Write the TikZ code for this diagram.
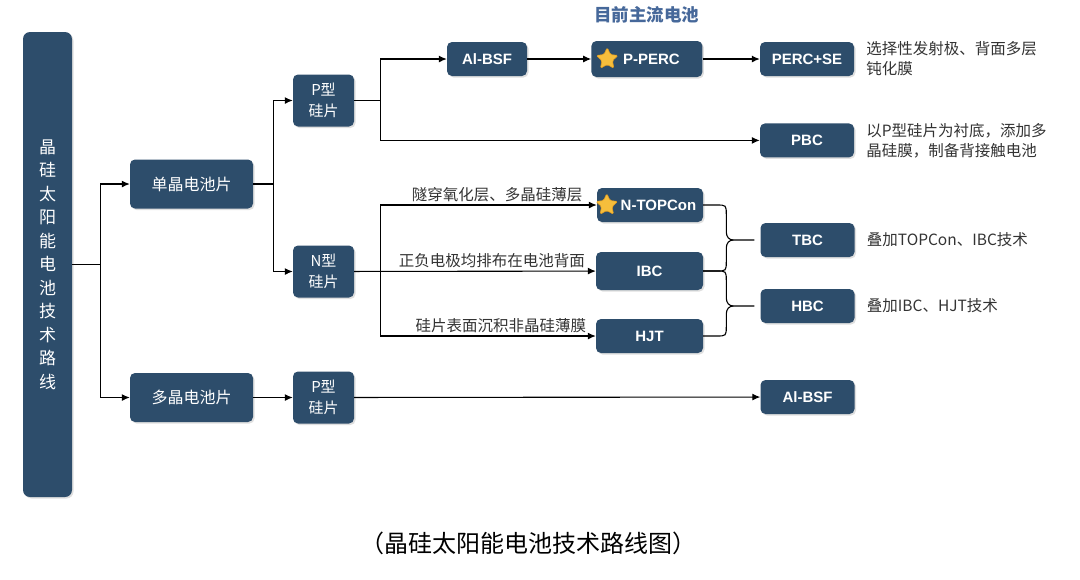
\documentclass[tikz,border=0pt]{standalone}
\usepackage{fontspec}
\setmainfont{Liberation Sans}
\newfontfamily\cjk{Noto Sans CJK SC}
\usepackage{xcolor}
\usepackage{tikz}
\usetikzlibrary{arrows.meta,positioning,shapes.geometric,shadows,calc}

\definecolor{boxblue}{HTML}{2D4D6B}
\definecolor{headblue}{HTML}{46689A}
\definecolor{notegray}{HTML}{333333}
\definecolor{stargold}{HTML}{F6BE3C}
\definecolor{starrim}{HTML}{E39E22}

\begin{document}
\begin{tikzpicture}[
    x=1pt, y=-1pt,
    cell/.style={
        fill=boxblue,
        rounded corners=5pt,
        align=center,
        text=white,
        inner sep=2pt,
        drop shadow={shadow xshift=1.5pt, shadow yshift=-1.5pt, opacity=0.25}
    },
    rootbox/.style={
        cell,
        rounded corners=7pt,
        minimum width=49pt,
        minimum height=465pt,
        font=\cjk\fontsize{17}{23.5}\selectfont
    },
    group/.style={
        cell,
        minimum width=123pt,
        minimum height=49pt,
        font=\cjk\fontsize{16}{20}\selectfont
    },
    wafer/.style={
        cell,
        minimum width=61pt,
        minimum height=52pt,
        font=\cjk\fontsize{15}{21}\selectfont
    },
    tech/.style={
        cell,
        minimum width=94pt,
        minimum height=34pt,
        font=\bfseries\fontsize{15}{17}\selectfont
    },
    note/.style={
        align=left,
        inner sep=0pt,
        text=notegray,
        font=\cjk\fontsize{15.5}{20}\selectfont
    },
    lbl/.style={
        above,
        inner sep=3pt,
        text=notegray,
        font=\cjk\fontsize{15.5}{18}\selectfont
    },
    starmark/.style={
        star, star points=5, star point ratio=2.1,
        minimum size=23pt, inner sep=0pt,
        fill=stargold, draw=starrim, line width=0.6pt,
        rounded corners=1.5pt
    },
    link/.style={line width=1.1pt, draw=black},
    arrow/.style={link, -{Latex[length=8pt,width=7pt]}}
]
\useasboundingbox (0,0) rectangle (1080,579);

% left column
\node[rootbox] (root) at (47.5,264.5) {晶\\硅\\太\\阳\\能\\电\\池\\技\\术\\路\\线};
\node[group] (mono) at (191.5,184) {单晶电池片};
\node[group] (poly) at (191.5,397.5) {多晶电池片};

\node[wafer] (pwaf) at (323.5,100.5) {P型\\硅片};
\node[wafer] (nwaf) at (323.5,271.5) {N型\\硅片};
\node[wafer] (pwaf2) at (323.5,397.5) {P型\\硅片};

% P-type branch
\node[tech, minimum width=80pt] (alb) at (487,59) {Al-BSF};
\node[tech, minimum width=111pt, minimum height=36pt, right=64pt of alb] (perc) {\hspace*{9pt}P-PERC};
\node[starmark] (star1) at ($(perc.west)+(16,0)$) {};
\node[font=\cjk\bfseries\fontsize{17.5}{20}\selectfont, text=headblue] (mainstream) at (646.5,15) {目前主流电池};

\node[tech] (perse) at (807,59) {PERC+SE};
\node[tech, below=47pt of perse] (pbc) {PBC};
\node[note, right=12pt of perse] (perse-note) {选择性发射极、背面多层\\钝化膜};
\node[note, right=12pt of pbc] (pbc-note) {以P型硅片为衬底，添加多\\晶硅膜，制备背接触电池};

% N-type branch
\node[tech, minimum width=106pt] (ntop) at (650,205) {\hspace*{17pt}N-TOPCon};
\node[starmark] (star2) at ($(ntop.west)+(10,0)$) {};
\node[tech, minimum width=107pt, minimum height=38pt] (ibc) at (649.5,271) {IBC};
\node[tech, minimum width=107pt] (hjt) at (649.5,336) {HJT};

\node[tech] (tbc) at (807.5,240) {TBC};
\node[tech] (hbc) at (807.5,306) {HBC};
\node[note, right=12pt of tbc] (tbc-note) {叠加TOPCon、IBC技术};
\node[note, right=12pt of hbc] (hbc-note) {叠加IBC、HJT技术};

% multi-crystal branch
\node[tech] (alb2) at (807.5,397) {Al-BSF};

\node[font=\cjk\fontsize{24}{26}\selectfont] (caption) at (528,543) {（晶硅太阳能电池技术路线图）};

% connectors
\coordinate (j0) at ($(root.east)+(28,0)$);
\draw[link] (root.east) -- (j0);
\draw[arrow] (j0) |- (mono);
\draw[arrow] (j0) |- (poly);

\coordinate (j1) at ($(mono.east)+(20,0)$);
\draw[link] (mono.east) -- (j1);
\draw[arrow] (j1) |- (pwaf);
\draw[arrow] (j1) |- (nwaf);
\draw[arrow] (poly) -- (pwaf2);
\draw[arrow] (pwaf2) -- (alb2);

\coordinate (j2) at ($(pwaf.east)+(26,0)$);
\draw[link] (pwaf.east) -- (j2);
\draw[arrow] (j2) |- (alb);
\draw[arrow] (j2) |- (pbc);
\draw[arrow] (alb) -- (perc);
\draw[arrow] (perc) -- (perse);

\coordinate (j3) at ($(nwaf.east)+(26,0)$);
\draw[link] (nwaf.east) -- (j3);
\draw[arrow] (j3) |- node[lbl, pos=0.77] {隧穿氧化层、多晶硅薄层} (ntop);
\draw[arrow] (nwaf) -- node[lbl, pos=0.57] {正负电极均排布在电池背面} (ibc);
\draw[arrow] (j3) |- node[lbl, pos=0.78] {硅片表面沉积非晶硅薄膜} (hjt);

% braces
\coordinate (tb) at ($(tbc.west)+(-34,0)$);
\coordinate (hb) at ($(hbc.west)+(-34,0)$);
\draw[link] (ntop.east) -- ($(ntop.east -| tb)+(-10,0)$)
    .. controls +(10,0) and +(0,-10) .. ($(ntop.east -| tb)+(0,10)$)
    -- ($(tb)+(0,-8)$) .. controls +(0,5) and +(-4,0) .. ($(tb)+(7,0)$)
    -- ($(tbc.west)+(-6,0)$);
\draw[link] ($(tb)+(7,0)$) .. controls +(-4,0) and +(0,-5) .. ($(tb)+(0,8)$)
    -- ($(ibc.east -| tb)+(0,-10)$)
    .. controls +(0,10) and +(10,0) .. ($(ibc.east -| tb)+(-10,0)$) -- (ibc.east);
\draw[link] (ibc.east) -- ($(ibc.east -| hb)+(-10,0)$)
    .. controls +(10,0) and +(0,-10) .. ($(ibc.east -| hb)+(0,10)$)
    -- ($(hb)+(0,-8)$) .. controls +(0,5) and +(-4,0) .. ($(hb)+(7,0)$)
    -- ($(hbc.west)+(-6,0)$);
\draw[link] ($(hb)+(7,0)$) .. controls +(-4,0) and +(0,-5) .. ($(hb)+(0,8)$)
    -- ($(hjt.east -| hb)+(0,-10)$)
    .. controls +(0,10) and +(10,0) .. ($(hjt.east -| hb)+(-10,0)$) -- (hjt.east);

\end{tikzpicture}
\end{document}
